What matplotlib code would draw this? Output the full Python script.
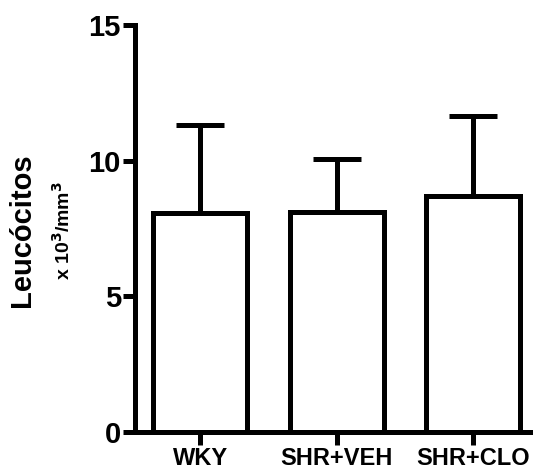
import matplotlib
matplotlib.use("Agg")
import matplotlib.pyplot as plt
import numpy as np

plt.rcParams['font.family'] = ['Liberation Sans', 'DejaVu Sans']
plt.rcParams['font.weight'] = 'bold'

# leukocyte counts (x 10^3/mm^3), mean and upper SD
groups = ['WKY', 'SHR+VEH', 'SHR+CLO']
means = [8.05, 8.1, 8.7]
errors = [3.25, 1.95, 2.95]

fig = plt.figure(figsize=(5.33, 4.70), dpi=100)
ax = fig.add_axes([0.253, 0.081, 0.75, 0.866])

x = np.arange(len(groups))
lw = 3.6
ax.bar(x, means, width=0.69, color='white', edgecolor='black', linewidth=lw, zorder=2)
ax.errorbar(x, means, yerr=[np.zeros(len(means)), errors], fmt='none',
            ecolor='black', elinewidth=lw, capsize=17, capthick=lw, zorder=1)

ax.set_xlim(-0.48, 2.45)
ax.set_ylim(0, 15)
ax.set_yticks([0, 5, 10, 15])
ax.set_xticks(x)
ax.set_xticklabels(groups, fontsize=17, fontweight='bold')
ax.tick_params(axis='y', labelsize=21, width=lw, length=9, pad=1)
ax.tick_params(axis='x', width=lw, length=9, pad=1.5)
for lab in ax.get_yticklabels():
    lab.set_fontweight('bold')

for side in ['top', 'right']:
    ax.spines[side].set_visible(False)
for side in ['left', 'bottom']:
    ax.spines[side].set_linewidth(lw)

fig.text(0.041, 0.51, 'Leucócitos', rotation=90, ha='center', va='center',
         fontsize=21, fontweight='bold')
fig.text(0.118, 0.51, r'x 10$^{\mathbf{3}}$/mm$^{\mathbf{3}}$', rotation=90,
         ha='center', va='center', fontsize=14, fontweight='bold')

fig.savefig('out.png', dpi=100)
